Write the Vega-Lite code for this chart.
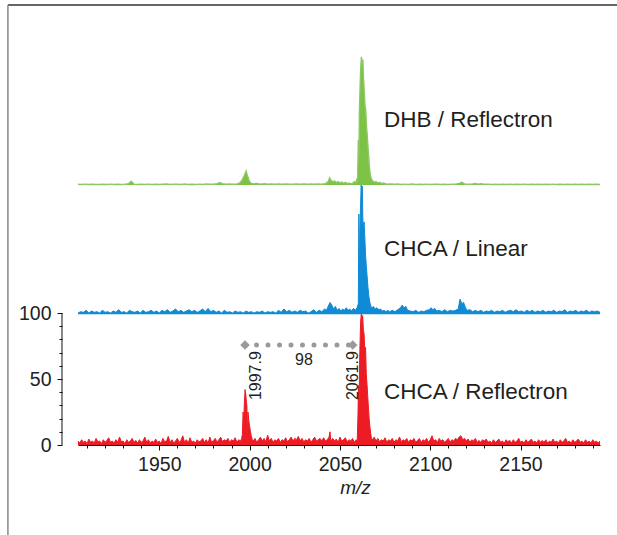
{
"$schema": "https://vega.github.io/schema/vega-lite/v6.json",
"width": 522, "height": 396,
"autosize": {"type": "none"},
"padding": {"left": 78, "top": 49, "right": 17, "bottom": 90},
"background": "white",
"config": {"view": {"stroke": null}, "font": "Liberation Sans"},
"datasets": {
"red": [
{"x":1905,"y":3},{"x":1906,"y":1.5},{"x":1907,"y":4},{"x":1908,"y":2},{"x":1909,"y":3},{"x":1910,"y":1},{"x":1911,"y":4.5},{"x":1912,"y":2},{"x":1913,"y":3},{"x":1914,"y":1.5},
{"x":1915,"y":5},{"x":1916,"y":2.5},{"x":1917,"y":3},{"x":1918,"y":1},{"x":1919,"y":4},{"x":1920,"y":2},{"x":1921,"y":3.5},{"x":1922,"y":5.5},{"x":1923,"y":2},{"x":1924,"y":3},
{"x":1925,"y":1.5},{"x":1926,"y":4},{"x":1927,"y":2},{"x":1928,"y":6},{"x":1929,"y":2.5},{"x":1930,"y":3},{"x":1931,"y":1},{"x":1932,"y":4},{"x":1933,"y":2},{"x":1934,"y":3},
{"x":1935,"y":5},{"x":1936,"y":2},{"x":1937,"y":3.5},{"x":1938,"y":1.5},{"x":1939,"y":4},{"x":1940,"y":2},{"x":1941,"y":3},{"x":1942,"y":6},{"x":1943,"y":2},{"x":1944,"y":4},
{"x":1945,"y":1.5},{"x":1946,"y":3},{"x":1947,"y":2},{"x":1948,"y":4.5},{"x":1949,"y":2},{"x":1950,"y":3},{"x":1951,"y":1},{"x":1952,"y":5},{"x":1953,"y":2.5},{"x":1954,"y":3},
{"x":1955,"y":6.5},{"x":1956,"y":2},{"x":1957,"y":4},{"x":1958,"y":1.5},{"x":1959,"y":3},{"x":1960,"y":5},{"x":1961,"y":2},{"x":1962,"y":3.5},{"x":1963,"y":7},{"x":1964,"y":2},
{"x":1965,"y":4},{"x":1966,"y":1.5},{"x":1967,"y":5.5},{"x":1968,"y":2},{"x":1969,"y":3},{"x":1970,"y":1.5},{"x":1971,"y":4},{"x":1972,"y":2.5},{"x":1973,"y":3},{"x":1974,"y":5},
{"x":1975,"y":2},{"x":1976,"y":4},{"x":1977,"y":1.5},{"x":1978,"y":6},{"x":1979,"y":2},{"x":1980,"y":3.5},{"x":1981,"y":5},{"x":1982,"y":2},{"x":1983,"y":4},{"x":1984,"y":6},
{"x":1985,"y":2.5},{"x":1986,"y":4},{"x":1987,"y":3},{"x":1988,"y":5},{"x":1989,"y":2},{"x":1990,"y":4},{"x":1991,"y":3},{"x":1992,"y":5.5},{"x":1993,"y":2},{"x":1994,"y":4},
{"x":1995,"y":3},{"x":1995.6,"y":5},{"x":1996,"y":8},{"x":1996.4,"y":25},{"x":1996.8,"y":18},{"x":1997.1,"y":32},{"x":1997.5,"y":42},{"x":1997.9,"y":38},{"x":1998.2,"y":33},{"x":1998.5,"y":30},
{"x":1998.8,"y":6},{"x":1999.1,"y":25},{"x":1999.5,"y":19},{"x":1999.9,"y":15},{"x":2000.4,"y":11},{"x":2000.9,"y":7},{"x":2001.5,"y":4},{"x":2002,"y":3},{"x":2003,"y":5},{"x":2004,"y":2},
{"x":2005,"y":4},{"x":2006,"y":6},{"x":2007,"y":3},{"x":2008,"y":5},{"x":2009,"y":2.5},{"x":2010,"y":7.5},{"x":2011,"y":3},{"x":2012,"y":5},{"x":2013,"y":2},{"x":2014,"y":4},
{"x":2015,"y":3},{"x":2016,"y":5},{"x":2017,"y":2},{"x":2018,"y":4},{"x":2019,"y":3},{"x":2020,"y":5.5},{"x":2021,"y":2.5},{"x":2022,"y":4},{"x":2023,"y":6},{"x":2024,"y":3},
{"x":2025,"y":5},{"x":2026,"y":4},{"x":2027,"y":6.5},{"x":2028,"y":3},{"x":2029,"y":5},{"x":2030,"y":2.5},{"x":2031,"y":4},{"x":2032,"y":3},{"x":2033,"y":5},{"x":2034,"y":2},
{"x":2035,"y":4},{"x":2036,"y":6},{"x":2037,"y":3},{"x":2038,"y":4},{"x":2039,"y":5},{"x":2040,"y":3},{"x":2041,"y":5.5},{"x":2042,"y":3},{"x":2043,"y":4},{"x":2044,"y":6},
{"x":2044.5,"y":10},{"x":2045,"y":3},{"x":2046,"y":5},{"x":2047,"y":3},{"x":2048,"y":4.5},{"x":2049,"y":2},{"x":2050,"y":6},{"x":2051,"y":3},{"x":2052,"y":4},{"x":2053,"y":5.5},
{"x":2054,"y":2.5},{"x":2055,"y":4},{"x":2056,"y":3},{"x":2057,"y":5},{"x":2058,"y":2},{"x":2059,"y":4},{"x":2059.6,"y":3},{"x":2060,"y":22},{"x":2060.3,"y":45},{"x":2060.6,"y":30},
{"x":2060.9,"y":62},{"x":2061.2,"y":80},{"x":2061.5,"y":94},{"x":2061.9,"y":100},{"x":2062.2,"y":91},{"x":2062.6,"y":98},{"x":2063,"y":87},{"x":2063.4,"y":84},{"x":2063.8,"y":69},{"x":2064.2,"y":74},
{"x":2064.6,"y":54},{"x":2065,"y":46},{"x":2065.4,"y":37},{"x":2065.8,"y":28},{"x":2066.2,"y":20},{"x":2066.6,"y":14},{"x":2067,"y":9},{"x":2067.5,"y":5},{"x":2068,"y":4},{"x":2069,"y":6},
{"x":2070,"y":3},{"x":2071,"y":5},{"x":2072,"y":2.5},{"x":2073,"y":4},{"x":2074,"y":3},{"x":2075,"y":5.5},{"x":2076,"y":2},{"x":2077,"y":4},{"x":2078,"y":3},{"x":2079,"y":5},
{"x":2080,"y":2},{"x":2081,"y":4},{"x":2082,"y":3},{"x":2083,"y":6},{"x":2084,"y":2.5},{"x":2085,"y":4},{"x":2086,"y":3},{"x":2087,"y":5},{"x":2088,"y":2},{"x":2089,"y":4},
{"x":2090,"y":3},{"x":2091,"y":5},{"x":2092,"y":2},{"x":2093,"y":3.5},{"x":2094,"y":5},{"x":2095,"y":2},{"x":2096,"y":4},{"x":2097,"y":3},{"x":2098,"y":5},{"x":2099,"y":2},
{"x":2100,"y":4},{"x":2101,"y":7},{"x":2102,"y":3},{"x":2103,"y":4},{"x":2104,"y":2},{"x":2105,"y":5},{"x":2106,"y":3},{"x":2107,"y":4},{"x":2108,"y":2},{"x":2109,"y":3.5},
{"x":2110,"y":5},{"x":2111,"y":2},{"x":2112,"y":4},{"x":2113,"y":3},{"x":2114,"y":5},{"x":2115,"y":4},{"x":2116,"y":6},{"x":2117,"y":7},{"x":2118,"y":4},{"x":2119,"y":5},
{"x":2120,"y":3},{"x":2121,"y":4.5},{"x":2122,"y":2},{"x":2123,"y":4},{"x":2124,"y":3},{"x":2125,"y":5},{"x":2126,"y":2},{"x":2127,"y":3.5},{"x":2128,"y":2},{"x":2129,"y":4},
{"x":2130,"y":3},{"x":2131,"y":4.5},{"x":2132,"y":2},{"x":2133,"y":3},{"x":2134,"y":1.5},{"x":2135,"y":4},{"x":2136,"y":2},{"x":2137,"y":3},{"x":2138,"y":4.5},{"x":2139,"y":2},
{"x":2140,"y":3},{"x":2141,"y":1.5},{"x":2142,"y":4},{"x":2143,"y":2.5},{"x":2144,"y":3.5},{"x":2145,"y":1.5},{"x":2146,"y":4},{"x":2147,"y":2},{"x":2148,"y":3},{"x":2149,"y":5},
{"x":2150,"y":2},{"x":2151,"y":3},{"x":2152,"y":1.5},{"x":2153,"y":4},{"x":2154,"y":2},{"x":2155,"y":3},{"x":2156,"y":4.5},{"x":2157,"y":2},{"x":2158,"y":3},{"x":2159,"y":1.5},
{"x":2160,"y":4},{"x":2161,"y":2},{"x":2162,"y":3.5},{"x":2163,"y":2},{"x":2164,"y":4},{"x":2165,"y":1.5},{"x":2166,"y":3},{"x":2167,"y":2},{"x":2168,"y":4.5},{"x":2169,"y":2},
{"x":2170,"y":3},{"x":2171,"y":1.5},{"x":2172,"y":4},{"x":2173,"y":2},{"x":2174,"y":3},{"x":2175,"y":5},{"x":2176,"y":2},{"x":2177,"y":3},{"x":2178,"y":1.5},{"x":2179,"y":4},
{"x":2180,"y":2},{"x":2181,"y":3},{"x":2182,"y":4.5},{"x":2183,"y":2},{"x":2184,"y":3},{"x":2185,"y":1.5},{"x":2186,"y":4},{"x":2187,"y":2},{"x":2188,"y":3},{"x":2189,"y":1.5},
{"x":2190,"y":4},{"x":2191,"y":2},{"x":2192,"y":3},{"x":2193,"y":1.5},{"x":2194,"y":3}
],
"blue": [
{"x":1905,"y":1},{"x":1906.5,"y":2},{"x":1908,"y":1.5},{"x":1909.5,"y":3},{"x":1911,"y":1},{"x":1912.5,"y":2.5},{"x":1914,"y":1.5},{"x":1915.5,"y":2},{"x":1917,"y":1},{"x":1918.5,"y":3},
{"x":1920,"y":1.5},{"x":1921.5,"y":2},{"x":1923,"y":1},{"x":1924.5,"y":2.5},{"x":1926,"y":1.5},{"x":1927.5,"y":3.5},{"x":1929,"y":1.5},{"x":1930.5,"y":2},{"x":1932,"y":1},{"x":1933.5,"y":3},
{"x":1935,"y":2},{"x":1936.5,"y":1.5},{"x":1938,"y":2.5},{"x":1939.5,"y":1},{"x":1941,"y":3},{"x":1942.5,"y":1.5},{"x":1944,"y":2},{"x":1945.5,"y":3},{"x":1947,"y":1.5},{"x":1948.5,"y":2.5},
{"x":1950,"y":1},{"x":1951.5,"y":3},{"x":1953,"y":2},{"x":1954.5,"y":3.5},{"x":1956,"y":1.5},{"x":1957.5,"y":2.5},{"x":1959,"y":4},{"x":1960.5,"y":2},{"x":1962,"y":3},{"x":1963.5,"y":1.5},
{"x":1965,"y":2.5},{"x":1966.5,"y":3.5},{"x":1968,"y":2},{"x":1969.5,"y":3},{"x":1971,"y":1.5},{"x":1972.5,"y":2.5},{"x":1974,"y":4},{"x":1975.5,"y":2},{"x":1977,"y":4.5},{"x":1978.5,"y":2},
{"x":1980,"y":3},{"x":1981.5,"y":1.5},{"x":1983,"y":2.5},{"x":1984.5,"y":1},{"x":1986,"y":3},{"x":1987.5,"y":1.5},{"x":1989,"y":2},{"x":1990.5,"y":1},{"x":1992,"y":2.5},{"x":1993.5,"y":1.5},
{"x":1995,"y":2},{"x":1996.5,"y":1},{"x":1998,"y":2.5},{"x":1999.5,"y":1.5},{"x":2001,"y":2},{"x":2002.5,"y":1},{"x":2004,"y":2},{"x":2005.5,"y":1.5},{"x":2007,"y":2.5},{"x":2008.5,"y":1},
{"x":2010,"y":2},{"x":2011.5,"y":1.5},{"x":2013,"y":2},{"x":2014.5,"y":1},{"x":2016,"y":3},{"x":2017.5,"y":1.5},{"x":2019,"y":4},{"x":2020.5,"y":2},{"x":2022,"y":3},{"x":2023.5,"y":1.5},
{"x":2025,"y":2.5},{"x":2026.5,"y":1.5},{"x":2028,"y":3},{"x":2029.5,"y":2},{"x":2031,"y":2.5},{"x":2032.5,"y":1},{"x":2034,"y":2},{"x":2035.5,"y":3.5},{"x":2037,"y":1.5},{"x":2038.5,"y":3},
{"x":2040,"y":2},{"x":2041.5,"y":4},{"x":2042.5,"y":3},{"x":2043.5,"y":6},{"x":2044.5,"y":9},{"x":2045.5,"y":7},{"x":2046.5,"y":4},{"x":2047.5,"y":6},{"x":2048.5,"y":3},{"x":2049.5,"y":4.5},
{"x":2050.5,"y":2.5},{"x":2051.5,"y":4},{"x":2052.5,"y":3},{"x":2053.5,"y":5},{"x":2054.5,"y":3},{"x":2055.5,"y":4},{"x":2056.5,"y":2.5},{"x":2057.5,"y":4.5},{"x":2058.5,"y":3},{"x":2059.5,"y":5},
{"x":2060.2,"y":8},{"x":2060.5,"y":76},{"x":2060.8,"y":30},{"x":2061.1,"y":66},{"x":2061.4,"y":80},{"x":2061.8,"y":100},{"x":2062.1,"y":88},{"x":2062.4,"y":97},{"x":2062.7,"y":72},{"x":2063,"y":65},
{"x":2063.4,"y":70},{"x":2063.8,"y":58},{"x":2064.2,"y":45},{"x":2064.6,"y":37},{"x":2065,"y":30},{"x":2065.5,"y":21},{"x":2066,"y":14},{"x":2066.6,"y":9},{"x":2067.2,"y":6},{"x":2067.8,"y":4.5},
{"x":2068.5,"y":6},{"x":2069.5,"y":4},{"x":2070.5,"y":5},{"x":2071.5,"y":3.5},{"x":2072.5,"y":4},{"x":2073.5,"y":2.5},{"x":2074.5,"y":3},{"x":2075.5,"y":2},{"x":2076.5,"y":3},{"x":2077.5,"y":2},
{"x":2079,"y":3},{"x":2080.5,"y":2},{"x":2082,"y":3.5},{"x":2083.5,"y":5},{"x":2084.5,"y":7},{"x":2085.5,"y":5},{"x":2086.5,"y":6},{"x":2087.5,"y":3},{"x":2089,"y":2.5},{"x":2090.5,"y":2},
{"x":2092,"y":3},{"x":2093.5,"y":1.5},{"x":2095,"y":2.5},{"x":2096.5,"y":2},{"x":2098,"y":3},{"x":2099.5,"y":3.5},{"x":2100.5,"y":5},{"x":2101.5,"y":3.5},{"x":2102.5,"y":4.5},{"x":2103.5,"y":2.5},
{"x":2105,"y":3},{"x":2106.5,"y":2},{"x":2108,"y":3.5},{"x":2109.5,"y":2},{"x":2111,"y":3},{"x":2112.5,"y":2.5},{"x":2114,"y":3},{"x":2115.5,"y":4},{"x":2116.5,"y":11.5},{"x":2117.5,"y":8},
{"x":2118.5,"y":9},{"x":2119.5,"y":5},{"x":2120.5,"y":3},{"x":2122,"y":3.5},{"x":2123.5,"y":2},{"x":2125,"y":3},{"x":2126.5,"y":2},{"x":2128,"y":3},{"x":2129.5,"y":1.5},{"x":2131,"y":2.5},
{"x":2132.5,"y":2},{"x":2134,"y":3},{"x":2135.5,"y":1.5},{"x":2137,"y":2.5},{"x":2138.5,"y":2},{"x":2140,"y":3},{"x":2141.5,"y":1.5},{"x":2143,"y":2.5},{"x":2144.5,"y":3},{"x":2146,"y":2},
{"x":2147.5,"y":3.5},{"x":2149,"y":2},{"x":2150.5,"y":2.5},{"x":2152,"y":1.5},{"x":2153.5,"y":3},{"x":2155,"y":2},{"x":2156.5,"y":3},{"x":2158,"y":1.5},{"x":2159.5,"y":2.5},{"x":2161,"y":2},
{"x":2162.5,"y":3},{"x":2164,"y":1.5},{"x":2165.5,"y":2.5},{"x":2167,"y":2},{"x":2168.5,"y":3},{"x":2170,"y":1.5},{"x":2171.5,"y":2.5},{"x":2173,"y":2},{"x":2174.5,"y":3.5},{"x":2176,"y":1.5},
{"x":2177.5,"y":2.5},{"x":2179,"y":2},{"x":2180.5,"y":3},{"x":2182,"y":1.5},{"x":2183.5,"y":2.5},{"x":2185,"y":2},{"x":2186.5,"y":3},{"x":2188,"y":1.5},{"x":2189.5,"y":2.5},{"x":2191,"y":2},
{"x":2192.5,"y":2.5},{"x":2194,"y":1.5}
],
"green": [
{"x":1905,"y":0.5},{"x":1907,"y":0.3},{"x":1909,"y":0.6},{"x":1911,"y":0.3},{"x":1913,"y":0.5},{"x":1915,"y":0.4},{"x":1917,"y":0.3},{"x":1919,"y":0.5},{"x":1921,"y":0.3},{"x":1923,"y":0.6},
{"x":1925,"y":0.4},{"x":1927,"y":0.5},{"x":1929,"y":0.3},{"x":1931,"y":0.6},{"x":1933,"y":1},{"x":1934.5,"y":2.8},{"x":1936,"y":0.6},{"x":1938,"y":0.4},{"x":1940,"y":0.5},{"x":1942,"y":0.3},
{"x":1944,"y":0.6},{"x":1946,"y":0.4},{"x":1948,"y":0.5},{"x":1950,"y":0.3},{"x":1952,"y":0.6},{"x":1954,"y":0.8},{"x":1956,"y":0.4},{"x":1958,"y":0.6},{"x":1960,"y":0.5},{"x":1962,"y":0.4},
{"x":1964,"y":0.7},{"x":1966,"y":0.4},{"x":1968,"y":0.5},{"x":1970,"y":0.3},{"x":1972,"y":0.6},{"x":1974,"y":0.4},{"x":1976,"y":0.7},{"x":1978,"y":0.5},{"x":1980,"y":0.6},{"x":1982,"y":1},
{"x":1983.5,"y":1.8},{"x":1985,"y":1},{"x":1987,"y":0.6},{"x":1989,"y":0.8},{"x":1991,"y":0.5},{"x":1993,"y":0.8},{"x":1994.5,"y":1.5},{"x":1995.5,"y":3},{"x":1996.3,"y":5},{"x":1997,"y":7},
{"x":1997.6,"y":9},{"x":1998.1,"y":10.5},{"x":1998.6,"y":8},{"x":1999.1,"y":6},{"x":1999.6,"y":4},{"x":2000.2,"y":2},{"x":2001,"y":1.2},{"x":2002,"y":0.8},{"x":2004,"y":1.2},{"x":2006,"y":0.6},
{"x":2008,"y":1},{"x":2010,"y":0.6},{"x":2012,"y":0.8},{"x":2014,"y":0.5},{"x":2016,"y":0.7},{"x":2018,"y":0.5},{"x":2020,"y":0.8},{"x":2022,"y":0.6},{"x":2024,"y":0.5},{"x":2026,"y":0.8},
{"x":2028,"y":0.5},{"x":2030,"y":0.7},{"x":2032,"y":0.5},{"x":2034,"y":0.8},{"x":2036,"y":0.5},{"x":2038,"y":0.7},{"x":2040,"y":0.6},{"x":2042,"y":1},{"x":2043.5,"y":2.5},{"x":2044.3,"y":5.5},
{"x":2045,"y":3.5},{"x":2046,"y":2.5},{"x":2047,"y":3},{"x":2048,"y":1.8},{"x":2049,"y":2.5},{"x":2050,"y":1.5},{"x":2051,"y":2.2},{"x":2052,"y":1.2},{"x":2053,"y":2},{"x":2054,"y":1},
{"x":2055,"y":1.5},{"x":2056,"y":0.8},{"x":2057,"y":1.2},{"x":2058,"y":2.5},{"x":2058.7,"y":1.5},{"x":2059.3,"y":4},{"x":2059.8,"y":3},{"x":2060.2,"y":34},{"x":2060.5,"y":20},{"x":2060.8,"y":55},
{"x":2061.2,"y":75},{"x":2061.5,"y":88},{"x":2061.9,"y":97},{"x":2062.3,"y":92},{"x":2062.7,"y":95},{"x":2063.1,"y":80},{"x":2063.5,"y":70},{"x":2063.9,"y":60},{"x":2064.3,"y":57},{"x":2064.7,"y":45},
{"x":2065.1,"y":38},{"x":2065.5,"y":30},{"x":2065.9,"y":22},{"x":2066.3,"y":14},{"x":2066.7,"y":9},{"x":2067.1,"y":6},{"x":2067.6,"y":4},{"x":2068.2,"y":3},{"x":2069,"y":2},{"x":2070,"y":2.5},
{"x":2071,"y":1.5},{"x":2072,"y":2},{"x":2073,"y":1},{"x":2074,"y":1.5},{"x":2076,"y":0.6},{"x":2078,"y":0.8},{"x":2080,"y":0.5},{"x":2082,"y":0.7},{"x":2084,"y":0.4},{"x":2086,"y":0.6},
{"x":2088,"y":0.4},{"x":2090,"y":0.7},{"x":2092,"y":0.4},{"x":2094,"y":0.5},{"x":2096,"y":0.4},{"x":2098,"y":0.6},{"x":2100,"y":0.4},{"x":2102,"y":0.5},{"x":2104,"y":0.6},{"x":2106,"y":0.4},
{"x":2108,"y":0.5},{"x":2110,"y":0.4},{"x":2112,"y":0.6},{"x":2114,"y":0.5},{"x":2116,"y":1.2},{"x":2117.5,"y":2},{"x":2119,"y":0.8},{"x":2121,"y":0.5},{"x":2123,"y":0.6},{"x":2125,"y":1.2},
{"x":2126.5,"y":0.6},{"x":2128,"y":1},{"x":2130,"y":0.5},{"x":2132,"y":0.6},{"x":2134,"y":0.4},{"x":2136,"y":0.5},{"x":2138,"y":0.3},{"x":2140,"y":0.5},{"x":2142,"y":0.4},{"x":2144,"y":0.5},
{"x":2146,"y":0.3},{"x":2148,"y":0.5},{"x":2150,"y":0.4},{"x":2152,"y":0.6},{"x":2154,"y":0.3},{"x":2156,"y":0.5},{"x":2158,"y":0.4},{"x":2160,"y":0.5},{"x":2162,"y":0.3},{"x":2164,"y":0.5},
{"x":2166,"y":0.4},{"x":2168,"y":0.6},{"x":2170,"y":0.3},{"x":2172,"y":0.5},{"x":2174,"y":0.4},{"x":2176,"y":0.5},{"x":2178,"y":0.3},{"x":2180,"y":0.5},{"x":2182,"y":0.4},{"x":2184,"y":0.5},
{"x":2186,"y":0.3},{"x":2188,"y":0.5},{"x":2190,"y":0.4},{"x":2192,"y":0.5},{"x":2194,"y":0.4}
],
"series": [
{"t":"DHB / Reflectron","x":2074.4,"y":240.9},
{"t":"CHCA / Linear","x":2074.4,"y":143.2},
{"t":"CHCA / Reflectron","x":2074.4,"y":34.8}
],
"peaks": [
{"t":"1997.9","x":2006.3,"y":34},
{"t":"2061.9","x":2060.0,"y":34}
],
"ends": [{"x":1997.46},{"x":2057.1}]
},
"resolve": {"scale": {"y": "independent"}, "axis": {"x": "independent", "y": "independent"}},
"layer": [
{"data": {"name": "red"},
 "mark": {"type": "area", "color": "#ed1c24", "opacity": 1, "line": {"color": "#ed1c24", "strokeWidth": 1}},
 "encoding": {
  "x": {"field": "x", "type": "quantitative", "scale": {"domain": [1905, 2194], "nice": false, "zero": false},
   "axis": {"orient": "bottom", "values": [1950, 2000, 2050, 2100, 2150], "format": "d", "tickSize": 5,
    "tickColor": "#111", "domainColor": "#111", "tickWidth": 1, "domainWidth": 1,
    "labelFont": "Liberation Sans", "labelFontSize": 19.5, "labelColor": "#222", "labelPadding": 5, "labelOverlap": false, "labelFlush": false, "grid": false,
    "title": "m/z", "titleFont": "Liberation Sans", "titleFontSize": 19, "titleFontStyle": "italic", "titleFontWeight": "normal", "titleColor": "#222",
    "titleX": 277, "titleY": 48, "titleBaseline": "alphabetic", "titleAlign": "center"}},
  "y": {"field": "y", "type": "quantitative", "scale": {"domain": [0, 300], "nice": false, "zero": false},
   "axis": {"orient": "left", "values": [0, 50, 100], "format": "d", "tickSize": 5,
    "domain": false, "offset": 16, "tickColor": "#111", "tickWidth": 1,
    "labelFont": "Liberation Sans", "labelFontSize": 19.5, "labelColor": "#222", "labelPadding": 6, "labelOverlap": false, "labelFlush": false, "grid": false, "title": null}},
  "y2": {"datum": 0}
 }},
{"data": {"name": "blue"},
 "mark": {"type": "area", "color": "#0f8bd6", "opacity": 1, "line": {"color": "#0f8bd6", "strokeWidth": 1}},
 "encoding": {
  "x": {"field": "x", "type": "quantitative", "scale": {"domain": [1905, 2194], "nice": false, "zero": false}, "axis": null},
  "y": {"field": "y", "type": "quantitative", "scale": {"domain": [-99, 201], "nice": false, "zero": false}, "axis": null},
  "y2": {"datum": 0}
 }},
{"data": {"name": "green"},
 "mark": {"type": "area", "color": "#7cc245", "opacity": 1, "line": {"color": "#8cc966", "strokeWidth": 1.4}},
 "encoding": {
  "x": {"field": "x", "type": "quantitative", "scale": {"domain": [1905, 2194], "nice": false, "zero": false}, "axis": null},
  "y": {"field": "y", "type": "quantitative", "scale": {"domain": [-197, 103], "nice": false, "zero": false}, "axis": null},
  "y2": {"datum": 0}
 }},
{"data": {"values": [{}]},
 "mark": {"type": "rule", "color": "#111", "strokeWidth": 1},
 "encoding": {
  "x": {"datum": 1896.14, "type": "quantitative", "scale": {"domain": [1905, 2194], "nice": false, "zero": false},
   "axis": {"orient": "bottom", "values": [1910,1920,1930,1940,1960,1970,1980,1990,2010,2020,2030,2040,2060,2070,2080,2090,2110,2120,2130,2140,2160,2170,2180,2190],
    "tickSize": 3, "tickColor": "#111", "tickWidth": 1, "domain": false, "labels": false, "grid": false, "title": null}},
  "y": {"datum": 0, "type": "quantitative", "scale": {"domain": [0, 300], "nice": false, "zero": false},
   "axis": {"orient": "left", "values": [10, 20, 30, 40, 60, 70, 80, 90], "tickSize": 3, "tickColor": "#111", "tickWidth": 1,
    "domain": false, "offset": 16, "labels": false, "grid": false, "title": null}},
  "y2": {"datum": 100}
 }},
{"data": {"values": [{}]},
 "mark": {"type": "rule", "color": "#9a9a9a", "strokeWidth": 5, "strokeDash": [0, 11.5], "strokeCap": "round"},
 "encoding": {
  "x": {"datum": 1997.46, "type": "quantitative", "scale": {"domain": [1905, 2194], "nice": false, "zero": false}, "axis": null},
  "x2": {"datum": 2057.1},
  "y": {"datum": 75.8, "type": "quantitative", "scale": {"domain": [0, 300], "nice": false, "zero": false}, "axis": null}
 }},
{"data": {"name": "ends"},
 "mark": {"type": "point", "shape": "diamond", "filled": true, "color": "#9a9a9a", "size": 90, "opacity": 1},
 "encoding": {
  "x": {"field": "x", "type": "quantitative", "scale": {"domain": [1905, 2194], "nice": false, "zero": false}, "axis": null},
  "y": {"datum": 75.8, "type": "quantitative", "scale": {"domain": [0, 300], "nice": false, "zero": false}, "axis": null}
 }},
{"data": {"values": [{"t": "98", "x": 2030.1, "y": 60.6}]},
 "mark": {"type": "text", "fontSize": 16, "align": "center", "baseline": "alphabetic", "color": "#231f20"},
 "encoding": {
  "x": {"field": "x", "type": "quantitative", "scale": {"domain": [1905, 2194], "nice": false, "zero": false}, "axis": null},
  "y": {"field": "y", "type": "quantitative", "scale": {"domain": [0, 300], "nice": false, "zero": false}, "axis": null},
  "text": {"field": "t"}
 }},
{"data": {"name": "peaks"},
 "mark": {"type": "text", "fontSize": 16, "align": "left", "baseline": "alphabetic", "angle": 270, "color": "#231f20"},
 "encoding": {
  "x": {"field": "x", "type": "quantitative", "scale": {"domain": [1905, 2194], "nice": false, "zero": false}, "axis": null},
  "y": {"field": "y", "type": "quantitative", "scale": {"domain": [0, 300], "nice": false, "zero": false}, "axis": null},
  "text": {"field": "t"}
 }},
{"data": {"name": "series"},
 "mark": {"type": "text", "fontSize": 22.5, "align": "left", "baseline": "alphabetic", "color": "#231f20"},
 "encoding": {
  "x": {"field": "x", "type": "quantitative", "scale": {"domain": [1905, 2194], "nice": false, "zero": false}, "axis": null},
  "y": {"field": "y", "type": "quantitative", "scale": {"domain": [0, 300], "nice": false, "zero": false}, "axis": null},
  "text": {"field": "t"}
 }},
{"data": {"values": [{}]},
 "mark": {"type": "rule", "color": "#333333", "strokeWidth": 1.4},
 "encoding": {
  "x": {"datum": 1866.2, "type": "quantitative", "scale": {"domain": [1905, 2194], "nice": false, "zero": false}, "axis": null},
  "x2": {"datum": 2205},
  "y": {"datum": 333.3, "type": "quantitative", "scale": {"domain": [0, 300], "nice": false, "zero": false}, "axis": null}
 }},
{"data": {"values": [{}]},
 "mark": {"type": "rule", "color": "#8f8f8f", "strokeWidth": 1.6},
 "encoding": {
  "x": {"datum": 1866.2, "type": "quantitative", "scale": {"domain": [1905, 2194], "nice": false, "zero": false}, "axis": null},
  "y": {"datum": -70, "type": "quantitative", "scale": {"domain": [0, 300], "nice": false, "zero": false}, "axis": null},
  "y2": {"datum": 333.3}
 }}
]
}
